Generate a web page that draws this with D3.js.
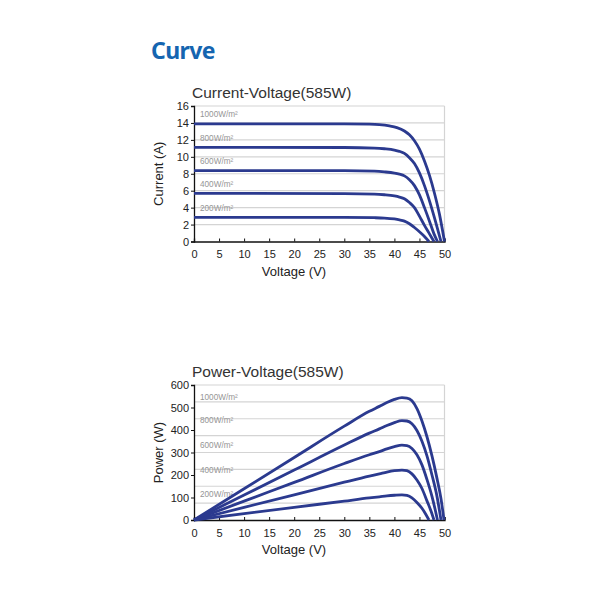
<!DOCTYPE html>
<html>
<head>
<meta charset="utf-8">
<script src="https://cdn.jsdelivr.net/npm/d3@7"></script>
<style>
  body { margin: 0; background: #fff; }
  text { font-family: "Liberation Sans", Arial, sans-serif; }
</style>
</head>
<body>
<script>
// irradiance levels, one curve each
var levels = ["1000W/m²", "800W/m²", "600W/m²", "400W/m²", "200W/m²"];

// current-voltage curves, [voltage, current]
var iv1000 = [[0,13.9],[30,13.9],[35,13.86],[37,13.8],[39,13.65],[40.5,13.45],[42,13.05],[43,12.6],[44,11.9],[45,10.9],[46,9.5],[47,7.8],[48,5.7],[49,3.2],[50,0]];
var iv800  = [[0,11.12],[30,11.1],[36,11.03],[38,10.95],[40,10.8],[41,10.65],[42,10.4],[43,9.9],[44,9.2],[45,8.1],[46,6.6],[47,4.8],[48,2.8],[49.3,0]];
var iv600  = [[0,8.38],[30,8.36],[36,8.3],[38,8.22],[40,8.08],[41,7.95],[42,7.75],[43,7.3],[44,6.6],[45,5.5],[46,4.0],[47,2.4],[47.9,0.9],[48.6,0]];
var iv400  = [[0,5.68],[30,5.66],[36,5.6],[38,5.52],[40,5.38],[41,5.25],[42,5.05],[43,4.6],[44,4.0],[45,3.0],[46,1.9],[47,0.9],[47.9,0]];
var iv200  = [[0,2.86],[30,2.85],[36,2.81],[38,2.77],[40,2.66],[41,2.56],[42,2.41],[43,2.1],[44,1.65],[45,1.15],[46,0.6],[46.9,0]];

// power-voltage curves, [voltage, power]
var pv1000 = [[0,0],[10,139],[20,278],[30,417],[35,483],[37,505],[38.5,522],[40,536],[41.5,544],[42.5,542],[43.5,530],[44.5,495],[45.5,440],[46.5,370],[47.5,285],[48.5,185],[49.3,95],[49.9,0]];
var pv800  = [[0,0],[10,111],[20,222],[30,333],[35,386],[37,405],[38.5,420],[40,433],[41.5,442],[42.5,440],[43.5,428],[44.5,398],[45.5,350],[46.5,285],[47.5,200],[48.5,105],[49.3,0]];
var pv600  = [[0,0],[10,84],[20,167],[30,251],[35,290],[37,304],[38.5,316],[40,326],[41.5,333],[42.5,331],[43.5,318],[44.5,290],[45.5,245],[46.5,180],[47.5,105],[48.1,50],[48.6,0]];
var pv400  = [[0,0],[10,56],[20,112],[30,168],[35,195],[37,205],[38.5,213],[40,219],[41.5,222],[42.5,219],[43.5,205],[44.5,178],[45.5,140],[46.5,85],[47.3,40],[47.9,0]];
var pv200  = [[0,0],[10,28],[20,56],[30,84],[35,98],[37,103],[38.5,107],[40,110],[41.5,112],[42.5,109],[43.5,98],[44.5,78],[45.5,52],[46.2,28],[46.9,0]];

var voltTicks = [0,5,10,15,20,25,30,35,40,45,50];
var currTicks = [0,2,4,6,8,10,12,14,16];
var currGrid  = [2,4,6,8,10,12,14,16];
var powTicks  = [0,100,200,300,400,500,600];
var powGrid   = [75,150,225,300,375,450,525,600];

var lineColor = "#2b3a8f";

var svg = d3.select("body").append("svg")
  .attr("width", 600)
  .attr("height", 600);

svg.append("text")
  .attr("x", 151).attr("y", 59)
  .style("font-family", "'Noto Sans', sans-serif")
  .style("font-weight", "bold")
  .style("font-size", "23px")
  .style("letter-spacing", "-0.6px")
  .attr("fill", "#1565b0")
  .text("Curve");

// draws one of the two panels
function narisiGraf(opts) {
  var x = d3.scaleLinear().domain([0, 50]).range([194, 444.5]);
  var y = d3.scaleLinear().domain([0, opts.maxY]).range([opts.bottom, opts.top]);

  svg.append("text")
    .attr("x", 192).attr("y", opts.top - 8)
    .style("font-size", "15.5px")
    .attr("fill", "#333")
    .text(opts.title);

  // grid
  svg.append("g").selectAll("line").data(opts.grid).join("line")
    .attr("x1", x(0)).attr("x2", x(50))
    .attr("y1", function(d) { return y(d); })
    .attr("y2", function(d) { return y(d); })
    .attr("stroke", "#d4d4d4").attr("stroke-width", 1.2);
  svg.append("line")
    .attr("x1", x(50)).attr("x2", x(50))
    .attr("y1", y(0)).attr("y2", y(opts.maxY))
    .attr("stroke", "#d4d4d4").attr("stroke-width", 1.2);

  // axes
  var xAxis = d3.axisBottom(x).tickValues(voltTicks).tickSize(-3).tickPadding(9);
  var gx = svg.append("g")
    .attr("transform", "translate(0," + y(0) + ")")
    .call(xAxis);
  var yAxis = d3.axisLeft(y).tickValues(opts.ticks).tickSize(3).tickPadding(2);
  var gy = svg.append("g")
    .attr("transform", "translate(" + x(0) + ",0)")
    .call(yAxis);
  [gx, gy].forEach(function(g) {
    g.select(".domain").attr("stroke", "#111").attr("stroke-width", 1.3);
    g.selectAll(".tick line").attr("stroke", "#111");
    g.selectAll(".tick text")
      .style("font-family", "'Liberation Sans', Arial, sans-serif")
      .style("font-size", "11px")
      .attr("fill", "#222");
  });

  svg.append("text")
    .attr("x", 294).attr("y", y(0) + 34)
    .attr("text-anchor", "middle")
    .style("font-size", "13px")
    .attr("fill", "#222")
    .text("Voltage (V)");
  svg.append("text")
    .attr("transform", "translate(163," + ((y(0) + y(opts.maxY)) / 2) + ") rotate(-90)")
    .attr("text-anchor", "middle")
    .style("font-size", "13px")
    .attr("fill", "#222")
    .text(opts.yTitle);

  // irradiance labels
  svg.append("g").selectAll("text").data(opts.series).join("text")
    .attr("x", 200)
    .attr("y", function(d, i) { return opts.labelY(d, y); })
    .style("font-size", "8.2px")
    .attr("fill", "#959595")
    .text(function(d, i) { return levels[i]; });

  var line = d3.line()
    .x(function(d) { return x(d[0]); })
    .y(function(d) { return y(d[1]); })
    .curve(d3.curveMonotoneX);

  svg.append("g").selectAll("path").data(opts.series).join("path")
    .attr("d", line)
    .attr("fill", "none")
    .attr("stroke", lineColor)
    .attr("stroke-width", 2.8)
    .attr("stroke-linejoin", "round");
}

narisiGraf({
  title: "Current-Voltage(585W)",
  yTitle: "Current (A)",
  top: 106, bottom: 241.5, maxY: 16,
  ticks: currTicks, grid: currGrid,
  series: [iv1000, iv800, iv600, iv400, iv200],
  labelY: function(d, y) { return y(d[0][1]) - 6.5; }
});

narisiGraf({
  title: "Power-Voltage(585W)",
  yTitle: "Power (W)",
  top: 385, bottom: 520, maxY: 600,
  ticks: powTicks, grid: powGrid,
  series: [pv1000, pv800, pv600, pv400, pv200],
  labelY: function(d, y) { return y(d3.max(d, function(p) { return p[1]; })) + 2.5; }
});
</script>
</body>
</html>
